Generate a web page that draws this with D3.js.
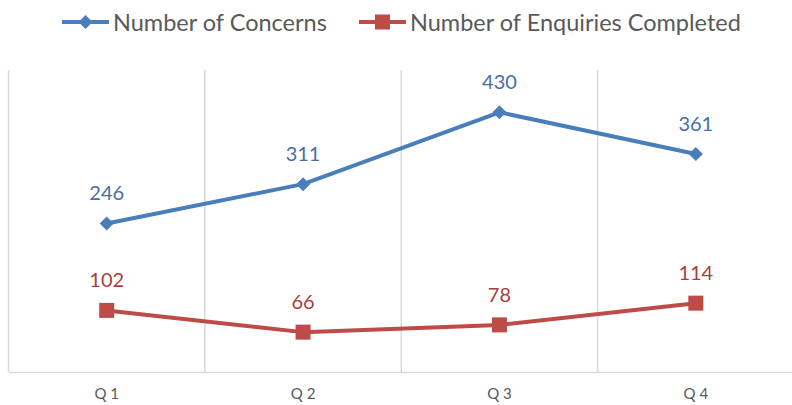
<!DOCTYPE html>
<html lang="en">
<head>
<meta charset="UTF-8">
<script src="https://cdn.jsdelivr.net/npm/d3@7"></script>
<style>
  html, body { margin: 0; padding: 0; background: #fff; }
  svg { display: block; font-family: Lato, "Liberation Sans", sans-serif; }
</style>
</head>
<body>
<svg id="chart" width="792" height="405"></svg>
<script>
// chart data
var quarters = ["Q 1", "Q 2", "Q 3", "Q 4"];
var concerns = [246, 311, 430, 361];
var enquiries = [102, 66, 78, 114];
var seriesNames = ["Number of Concerns", "Number of Enquiries Completed"];

var svg = d3.select("#chart"),
    margin = {top: 70, right: -2, bottom: 33, left: 8.5},
    width = 792 - margin.left - margin.right,
    height = 405 - margin.top - margin.bottom;

var g = svg.append("g").attr("transform", "translate(" + margin.left + "," + margin.top + ")");

var x = d3.scaleBand().domain(quarters).range([0, width]);
var y = d3.scaleLinear().domain([0, 500]).range([height, 0]);

// vertical gridlines at band edges
var edges = quarters.map(function(q) { return x(q); }).concat([width]);
g.selectAll(".grid").data(edges).enter().append("line")
  .attr("x1", function(d) { return d; }).attr("x2", function(d) { return d; })
  .attr("y1", 0).attr("y2", height)
  .attr("stroke", "#d9d9d9").attr("stroke-width", 1.5);

// bottom axis
var xAxis = g.append("g").attr("transform", "translate(0," + height + ")")
  .call(d3.axisBottom(x).tickSize(0).tickPadding(16));
xAxis.select(".domain").attr("stroke", "#d9d9d9").attr("stroke-width", 1.5);
xAxis.selectAll("text").attr("fill", "#595959").attr("font-size", 15)
  .attr("font-family", "Lato, sans-serif");

var series = [
  {name: seriesNames[0], values: concerns, color: "#4a7ebb", label: "#4a6ea3", marker: "diamond"},
  {name: seriesNames[1], values: enquiries, color: "#be4b48", label: "#a83f3c", marker: "square"}
];

var line = d3.line()
  .x(function(d, i) { return x(quarters[i]) + x.bandwidth() / 2; })
  .y(function(d) { return y(d); });

function marker(sel, type) {
  if (type === "diamond") {
    sel.append("path").attr("d", "M0,-7L7,0L0,7L-7,0Z");
  } else {
    sel.append("rect").attr("x", -7.5).attr("y", -7.5).attr("width", 15).attr("height", 15);
  }
}

series.forEach(function(s) {
  g.append("path").datum(s.values)
    .attr("d", line).attr("fill", "none")
    .attr("stroke", s.color).attr("stroke-width", 4).attr("stroke-linejoin", "round");

  s.values.forEach(function(v, i) {
    var px = x(quarters[i]) + x.bandwidth() / 2, py = y(v);
    var m = g.append("g").attr("transform", "translate(" + px + "," + py + ")").attr("fill", s.color);
    marker(m, s.marker);
    g.append("text").attr("x", px).attr("y", py - 23)
      .attr("text-anchor", "middle").attr("fill", s.label)
      .attr("font-size", 20).text(v);
  });
});

// legend
var legendX = [62, 359];
series.forEach(function(s, i) {
  var lg = svg.append("g").attr("transform", "translate(" + legendX[i] + ",22)");
  lg.append("line").attr("x1", 0).attr("x2", 47).attr("y1", 0).attr("y2", 0)
    .attr("stroke", s.color).attr("stroke-width", 4);
  var m = lg.append("g").attr("transform", "translate(23.5,0)").attr("fill", s.color);
  marker(m, s.marker);
  lg.append("text").attr("x", 51).attr("y", 8.5).attr("fill", "#595959")
    .attr("font-size", 23.5).text(s.name);
});
</script>
</body>
</html>
